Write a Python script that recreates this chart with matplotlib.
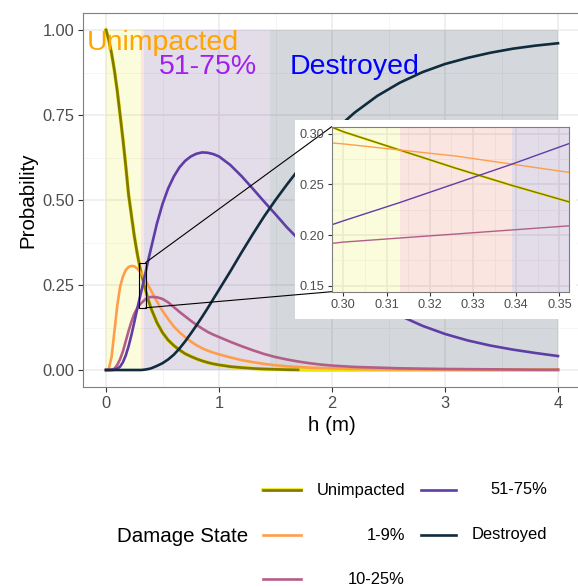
import matplotlib
matplotlib.use("Agg")
import matplotlib.pyplot as plt
from matplotlib.lines import Line2D
from matplotlib.patches import Rectangle, ConnectionPatch

plt.rcParams['font.family'] = ['Liberation Sans', 'DejaVu Sans']

# water depth grid (m) and probabilities
h = [0, 0.025, 0.05, 0.075, 0.1, 0.125, 0.15, 0.175, 0.2, 0.225, 0.25, 0.275,
     0.3, 0.313, 0.326, 0.339, 0.352, 0.375, 0.4, 0.45, 0.5, 0.55, 0.6, 0.65,
     0.7, 0.75, 0.8, 0.85, 0.9, 0.95, 1.0, 1.1, 1.2, 1.3, 1.4, 1.5, 1.6, 1.7,
     1.8, 1.9, 2.0, 2.2, 2.4, 2.6, 2.8, 3.0, 3.2, 3.4, 3.6, 3.8, 4.0]

unimpacted = [1.0, 0.97, 0.93, 0.88, 0.82, 0.75, 0.678, 0.6, 0.515, 0.455, 0.395, 0.345,
              0.302, 0.284, 0.266, 0.249, 0.233, 0.205, 0.18, 0.14, 0.11, 0.088, 0.072, 0.059,
              0.048, 0.04, 0.033, 0.027, 0.022, 0.018, 0.015, 0.01, 0.007, 0.0045, 0.003, 0.002, 0.001, 0.0005]
ds_1_9 = [0, 0.003, 0.04, 0.115, 0.19, 0.245, 0.275, 0.294, 0.303, 0.306, 0.305, 0.299,
          0.29, 0.284, 0.278, 0.27, 0.262, 0.248, 0.233, 0.202, 0.174, 0.15, 0.128, 0.111,
          0.097, 0.084, 0.073, 0.064, 0.057, 0.051, 0.046, 0.037, 0.029, 0.023, 0.018, 0.014, 0.011, 0.009,
          0.007, 0.006, 0.005, 0.003, 0.002, 0.0015, 0.001, 0.0008, 0.0006, 0.0004, 0.0003, 0.0002, 0.0001]
ds_10_25 = [0, 0, 0.001, 0.004, 0.015, 0.032, 0.055, 0.085, 0.115, 0.142, 0.165, 0.181,
            0.193, 0.197, 0.201, 0.205, 0.209, 0.213, 0.215, 0.214, 0.209, 0.199, 0.185, 0.171,
            0.158, 0.145, 0.133, 0.122, 0.112, 0.104, 0.097, 0.083, 0.07, 0.058, 0.047, 0.038, 0.031, 0.025,
            0.02, 0.016, 0.013, 0.009, 0.007, 0.005, 0.004, 0.003, 0.0025, 0.002, 0.0015, 0.001, 0.001]
ds_51_75 = [0, 0, 0, 0.001, 0.004, 0.01, 0.023, 0.043, 0.07, 0.103, 0.14, 0.178,
            0.214, 0.232, 0.251, 0.27, 0.29, 0.325, 0.36, 0.43, 0.488, 0.534, 0.569, 0.596,
            0.615, 0.628, 0.636, 0.64, 0.639, 0.635, 0.628, 0.603, 0.57, 0.533, 0.495, 0.458, 0.42, 0.386,
            0.353, 0.322, 0.293, 0.24, 0.196, 0.16, 0.13, 0.106, 0.087, 0.072, 0.06, 0.05, 0.041]
destroyed = [0, 0, 0, 0, 0, 0, 0, 0, 0, 0, 0, 0,
             0, 0, 0.0005, 0.001, 0.0015, 0.003, 0.005, 0.012, 0.02, 0.031, 0.045, 0.063,
             0.084, 0.107, 0.131, 0.156, 0.182, 0.209, 0.236, 0.29, 0.346, 0.4, 0.452, 0.5, 0.545, 0.588,
             0.627, 0.664, 0.698, 0.757, 0.806, 0.845, 0.876, 0.9, 0.918, 0.933, 0.945, 0.954, 0.961]

labels = ['Unimpacted', '1-9%', '10-25%', '51-75%', 'Destroyed']
colors = ['#807800', '#FF9E4A', '#B35E88', '#5F3DA6', '#0F2B3D']
series = [unimpacted, ds_1_9, ds_10_25, ds_51_75, destroyed]

# most likely state regions
region_edges = [0, 0.313, 0.339, 1.45, 4.0]
region_fill = ['#E1EB14', '#E45230', '#693D8A', '#162C3D']
region_alpha = [0.15, 0.15, 0.18, 0.18]

W, H = 578, 587
fig = plt.figure(figsize=(W / 100, H / 100), dpi=100)


def fx(x):
    return x / W


def fy(y):
    return 1 - y / H


ax = fig.add_axes([fx(83.4), fy(387), fx(580.6) - fx(83.4), fy(13) - fy(387)])


def style(a, fs, major_x, major_y, minor_x, minor_y, tl, pad):
    a.set_facecolor('white')
    a.set_xticks(major_x)
    a.set_yticks(major_y)
    a.set_xticks(minor_x, minor=True)
    a.set_yticks(minor_y, minor=True)
    a.grid(which='major', color='#EBEBEB', lw=1.1)
    a.grid(which='minor', color='#F2F2F2', lw=0.55)
    a.set_axisbelow(True)
    a.tick_params(which='minor', length=0)
    a.tick_params(which='major', length=tl, width=0.8, color='#333333',
                  labelsize=fs, labelcolor='#4D4D4D', pad=pad)
    for s in a.spines.values():
        s.set_color('#7F7F7F')
        s.set_linewidth(0.8)


def shade(a):
    for i in range(len(region_fill)):
        a.fill_between([region_edges[i], region_edges[i + 1]], 0, 1,
                       color=region_fill[i], alpha=region_alpha[i], lw=0, zorder=0.7)


style(ax, 11.8, [0, 1, 2, 3, 4], [0, 0.25, 0.5, 0.75, 1.0],
      [0.5, 1.5, 2.5, 3.5], [0.125, 0.375, 0.625, 0.875], 3.7, 3)
ax.set_yticklabels(['0.00', '0.25', '0.50', '0.75', '1.00'])
ax.set_xlim(-0.2, 4.2)
ax.set_ylim(-0.05, 1.05)
shade(ax)

ax.plot(h, unimpacted + [0] * (len(h) - len(unimpacted)), color='#E8E800', lw=2.6, zorder=2)
for name, vals, c in zip(labels, series, colors):
    ax.plot(h[:len(vals)], vals, color=c, lw=1.9, zorder=2.5)

ax.text(0.5, 0.94, 'Unimpacted', color='#FFA500', fontsize=20.5, ha='center', va='baseline', zorder=3)
ax.text(0.9, 0.87, '51-75%', color='#A020F0', fontsize=20.5, ha='center', va='baseline', zorder=3)
ax.text(2.2, 0.87, 'Destroyed', color='#0000FF', fontsize=20.5, ha='center', va='baseline', zorder=3)

ax.set_xlabel('h (m)', fontsize=14.8, labelpad=3.7)
ax.set_ylabel('Probability', fontsize=14.8, labelpad=3.7)

# zoom box
box = (0.289, 0.183, 0.351, 0.316)
ax.add_patch(Rectangle((box[0], box[1]), box[2] - box[0], box[3] - box[1],
                       fill=False, ec='black', lw=0.8, zorder=4))

# white background of the inset
fig.add_artist(Rectangle((fx(295), fy(319)), fx(576) - fx(295), fy(120) - fy(319),
                         transform=fig.transFigure, fc='white', ec='none', zorder=1))

ins = fig.add_axes([fx(331.7), fy(291.7), fx(569) - fx(331.7), fy(126.7) - fy(291.7)])
ins.set_zorder(3)
style(ins, 9.2, [0.30, 0.31, 0.32, 0.33, 0.34, 0.35], [0.15, 0.20, 0.25, 0.30],
      [0.305, 0.315, 0.325, 0.335, 0.345], [0.175, 0.225, 0.275], 2.9, 2.3)
ins.set_xticklabels(['0.30', '0.31', '0.32', '0.33', '0.34', '0.35'])
ins.set_yticklabels(['0.15', '0.20', '0.25', '0.30'])
ins.set_xlim(0.2973, 0.3522)
ins.set_ylim(0.144, 0.307)
shade(ins)
ins.plot(h[:len(unimpacted)], unimpacted, color='#E8E800', lw=1.7, zorder=2)
for name, vals, c in zip(labels, series, colors):
    ins.plot(h[:len(vals)], vals, color=c, lw=1.0, zorder=2.5)

for xy_main, xy_ins in [((box[2], box[3]), (0, 1)), ((box[2], box[1]), (0, 0))]:
    cp = ConnectionPatch(xyA=xy_main, coordsA=ax.transData, xyB=xy_ins, coordsB=ins.transAxes,
                         color='black', lw=0.8, zorder=2)
    fig.add_artist(cp)

# legend
fig.text(fx(117), fy(536), 'Damage State', fontsize=14.8, ha='left', va='center')
key_x = [(263, 301), (421, 456)]
lab_right = [405, 547]
row_y = [490, 535, 579]
for i, (name, c) in enumerate(zip(labels, colors)):
    col, row = divmod(i, 3)
    y = fy(row_y[row])
    if name == 'Unimpacted':
        fig.add_artist(Line2D([fx(key_x[col][0]), fx(key_x[col][1])], [y, y], color='#E8E800',
                              lw=2.6, transform=fig.transFigure))
    fig.add_artist(Line2D([fx(key_x[col][0]), fx(key_x[col][1])], [y, y], color=c,
                          lw=1.9, transform=fig.transFigure))
    fig.text(fx(lab_right[col]), y, name, fontsize=11.9, ha='right', va='center')

fig.savefig('out.png', dpi=100)
